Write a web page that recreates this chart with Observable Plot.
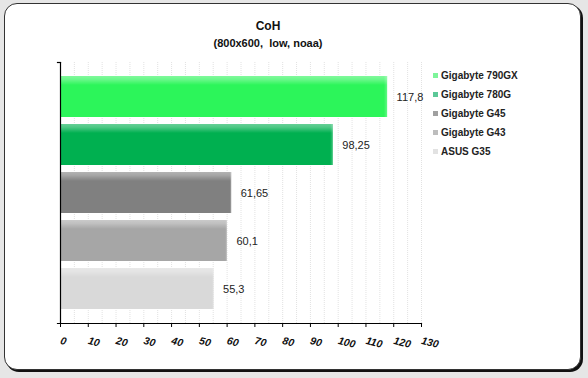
<!DOCTYPE html>
<html>
<head>
<meta charset="utf-8">
<script src="https://cdn.jsdelivr.net/npm/d3@7"></script>
<script src="https://cdn.jsdelivr.net/npm/@observablehq/plot@0.6"></script>
<style>
  html, body { margin: 0; padding: 0; background: #e6e6e6; width: 588px; height: 378px; overflow: hidden; font-family: "Liberation Sans", Arial, sans-serif; }
  #frame { position: absolute; left: 4px; top: 3px; width: 575px; height: 365px; background: #fff; border: 1.5px solid #333; border-radius: 13px; box-shadow: 2px 2px 0 #111; }
  #chart { position: absolute; left: 0; top: 0; }
  .title { position: absolute; left: 168px; width: 200px; text-align: center; font-weight: bold; color: #111; font-size: 11px; line-height: 14px; }
  #legend { position: absolute; left: 433px; top: 0; }
  .lg { position: absolute; left: 0; white-space: nowrap; font-weight: bold; font-size: 10px; color: #222; line-height: 12px; }
  .sw { display: inline-block; width: 5px; height: 5px; margin-right: 3px; vertical-align: 1px; }
</style>
</head>
<body>
<div id="frame"></div>
<div class="title" style="top:19px; font-size:12px">CoH</div>
<div class="title" style="top:36px">(800x600,&nbsp; low, noaa)</div>
<div id="chart"></div>
<div id="legend"></div>
<script>
const names = ["Gigabyte 790GX", "Gigabyte 780G", "Gigabyte G45", "Gigabyte G43", "ASUS G35"];
const values = [117.8, 98.25, 61.65, 60.1, 55.3];
const barColors = ["#2cf55a", "#00b050", "#808080", "#a6a6a6", "#d9d9d9"];
const legendColors = ["#7df59a", "#5cc898", "#a0a0a0", "#bdbdbd", "#e2e2e2"];
const xTicks = [0, 10, 20, 30, 40, 50, 60, 70, 80, 90, 100, 110, 120, 130];
const gridTicks = [0, 5, 10, 15, 20, 25, 30, 35, 40, 45, 50, 55, 60, 65, 70, 75, 80, 85, 90, 95, 100, 105, 110, 115, 120, 125, 130];

const data = names.map((n, i) => ({name: n, value: values[i]}));

const chart = Plot.plot({
  width: 588,
  height: 378,
  marginLeft: 60,
  marginRight: 167,
  marginTop: 62,
  marginBottom: 55,
  style: {background: "transparent", fontFamily: "Liberation Sans, Arial, sans-serif"},
  x: {domain: [0, 130], ticks: xTicks, label: null},
  y: {domain: names, paddingInner: 0.143, paddingOuter: 0.235, axis: null},
  color: {domain: names, range: barColors},
  marks: [
    Plot.gridX(gridTicks, {stroke: "#cfcfcf", strokeOpacity: 0.6, strokeDasharray: "1,1"}),
    Plot.barX(data, {x: "value", y: "name", fill: "name"}),
    Plot.barX(data, {x: "value", y: "name", fill: "url(#shine)"}),
    Plot.barX(data, {x: "value", y: "name", fill: "url(#edge)"}),
    Plot.text(data, {x: "value", y: "name", text: d => String(d.value).replace(".", ","), textAnchor: "start", dx: 9, fontSize: 11, fill: "#222"}),
    Plot.frame({anchor: "left", stroke: "#000", strokeWidth: 1.2}),
    Plot.frame({anchor: "bottom", stroke: "#000", strokeWidth: 1.2, insetLeft: -3}),
    Plot.frame({anchor: "top", stroke: "#000", strokeWidth: 1.2, insetLeft: -3, insetRight: 361}),
    Plot.axisX(xTicks, {anchor: "bottom", label: null, tickSize: 4, tickPadding: 13, tickRotate: 14, fontSize: 10.5, fontStyle: "italic", fontWeight: "bold", fill: "#111", stroke: "#000", tickFormat: d => String(d)})
  ]
});

const svg = d3.select(chart);
const defs = svg.insert("defs", ":first-child");
const g1 = defs.append("linearGradient").attr("id", "shine").attr("x1", 0).attr("y1", 0).attr("x2", 0).attr("y2", 1);
g1.append("stop").attr("offset", "0").attr("stop-color", "#fff").attr("stop-opacity", 0.4);
g1.append("stop").attr("offset", "0.08").attr("stop-color", "#fff").attr("stop-opacity", 0.3);
g1.append("stop").attr("offset", "0.22").attr("stop-color", "#fff").attr("stop-opacity", 0);
g1.append("stop").attr("offset", "1").attr("stop-color", "#fff").attr("stop-opacity", 0);
const g2 = defs.append("linearGradient").attr("id", "edge").attr("x1", 0).attr("y1", 0).attr("x2", 1).attr("y2", 0);
g2.append("stop").attr("offset", "0.99").attr("stop-color", "#fff").attr("stop-opacity", 0);
g2.append("stop").attr("offset", "1").attr("stop-color", "#fff").attr("stop-opacity", 0.25);

document.getElementById("chart").appendChild(chart);

const legend = document.getElementById("legend");
names.forEach((n, i) => {
  const row = document.createElement("div");
  row.className = "lg";
  row.style.top = (70 + i * 19) + "px";
  const sw = document.createElement("span");
  sw.className = "sw";
  sw.style.background = legendColors[i];
  row.appendChild(sw);
  row.appendChild(document.createTextNode(n));
  legend.appendChild(row);
});
</script>
</body>
</html>
